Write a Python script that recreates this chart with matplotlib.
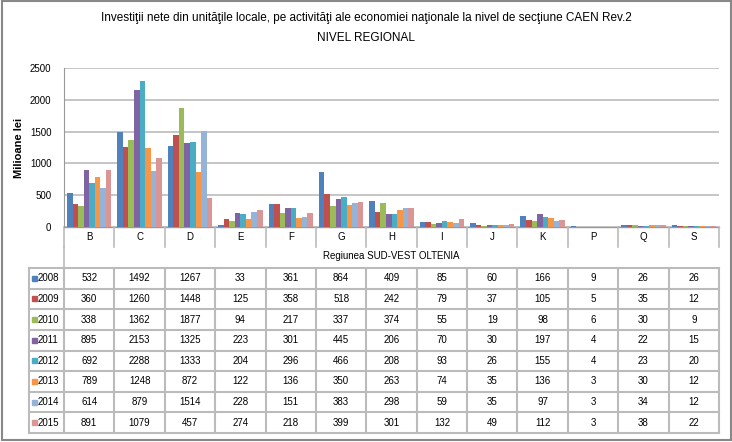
import numpy as np
import matplotlib.pyplot as plt
from matplotlib.patches import Rectangle

plt.rcParams['font.family'] = ['Liberation Sans', 'DejaVu Sans']

categories = ['B', 'C', 'D', 'E', 'F', 'G', 'H', 'I', 'J', 'K', 'P', 'Q', 'S']
years = ['2008', '2009', '2010', '2011', '2012', '2013', '2014', '2015']
values = [
    [532, 1492, 1267, 33, 361, 864, 409, 85, 60, 166, 9, 26, 26],
    [360, 1260, 1448, 125, 358, 518, 242, 79, 37, 105, 5, 35, 12],
    [338, 1362, 1877, 94, 217, 337, 374, 55, 19, 98, 6, 30, 9],
    [895, 2153, 1325, 223, 301, 445, 206, 70, 30, 197, 4, 22, 15],
    [692, 2288, 1333, 204, 296, 466, 208, 93, 26, 155, 4, 23, 20],
    [789, 1248, 872, 122, 136, 350, 263, 74, 35, 136, 3, 30, 12],
    [614, 879, 1514, 228, 151, 383, 298, 59, 35, 97, 3, 34, 12],
    [891, 1079, 457, 274, 218, 399, 301, 132, 49, 112, 3, 38, 22],
]
colors = ['#4F81BD', '#C0504D', '#9BBB59', '#8064A2', '#4BACC6', '#F79646', '#95B3D7', '#D99694']
yticks = [0, 500, 1000, 1500, 2000, 2500]

W, H = 732, 442
fig = plt.figure(figsize=(W / 100, H / 100), dpi=100)

# overlay axes in pixel coordinates for the table and frame
ov = fig.add_axes([0, 0, 1, 1])
ov.set_xlim(0, W)
ov.set_ylim(H, 0)
ov.axis('off')

left, right, top, bottom = 64, 719, 68, 227
ax = fig.add_axes([left / W, 1 - bottom / H, (right - left) / W, (bottom - top) / H])
n = len(categories)
x = np.arange(n)
bw = 0.11
for i, yr in enumerate(years):
    ax.bar(x + (i - 3.5) * bw, values[i], width=bw, color=colors[i], edgecolor='none', zorder=3)
ax.set_xlim(-0.5, n - 0.5)
ax.set_ylim(0, 2500)
ax.set_yticks(yticks)
ax.set_yticklabels([str(t) for t in yticks], fontsize=7)
ax.set_xticks([])
ax.tick_params(axis='y', length=0, pad=9)
ax.grid(axis='y', color='#BBBBBB', linewidth=1.2, zorder=0)
for s in ['top', 'right', 'bottom']:
    ax.spines[s].set_visible(False)
ax.spines['left'].set_color('#999999')
ax.set_ylabel('Milioane lei', fontsize=8, fontweight='bold')
ax.yaxis.set_label_coords(-40 / (right - left), 0.5)
ax.patch.set_alpha(0)

fig.text(0.5, 1 - 18 / H, 'Investiţii nete din unităţile locale, pe activităţi ale economiei naţionale la nivel de secţiune CAEN Rev.2',
         ha='center', va='center', fontsize=8.5)
fig.text(0.5, 1 - 38 / H, 'NIVEL REGIONAL', ha='center', va='center', fontsize=8.5)

# table
colw = (right - left) / n
xs = [left + k * colw for k in range(n + 1)]
lc = '#BBBBBB'
ov.plot([left, right], [bottom, bottom], color='#999999', lw=1)
for k, xb in enumerate(xs):
    ov.plot([xb, xb], [bottom, 247], color=lc, lw=1.2)
for k, c in enumerate(categories):
    ov.text(xs[k] + colw / 2, 237, c, ha='center', va='center', fontsize=7)
ov.plot([left, left], [247, 268], color=lc, lw=1.2)
ov.text((left + right) / 2, 256, 'Regiunea SUD-VEST OLTENIA', ha='center', va='center', fontsize=7)

tleft, ttop, tbot = 29, 268, 433
rh = (tbot - ttop) / len(years)
for r in range(len(years) + 1):
    yy = ttop + r * rh
    ov.plot([tleft, right], [yy, yy], color=lc, lw=1.5)
for xb in [tleft] + xs:
    ov.plot([xb, xb], [ttop, tbot], color=lc, lw=1.5)
for r, yr in enumerate(years):
    yc = ttop + (r + 0.5) * rh
    ov.add_patch(Rectangle((32, yc - 2.5), 4.5, 5, color=colors[r]))
    ov.text(38, yc, yr, ha='left', va='center', fontsize=7)
    for k in range(n):
        ov.text(xs[k] + colw / 2, yc, str(values[r][k]), ha='center', va='center', fontsize=7)

# outer frame
ov.add_patch(Rectangle((1.5, 0.5), W - 3, H - 2.5, fill=False, edgecolor='#888888', lw=1.5))

fig.savefig('out.png', dpi=100)
